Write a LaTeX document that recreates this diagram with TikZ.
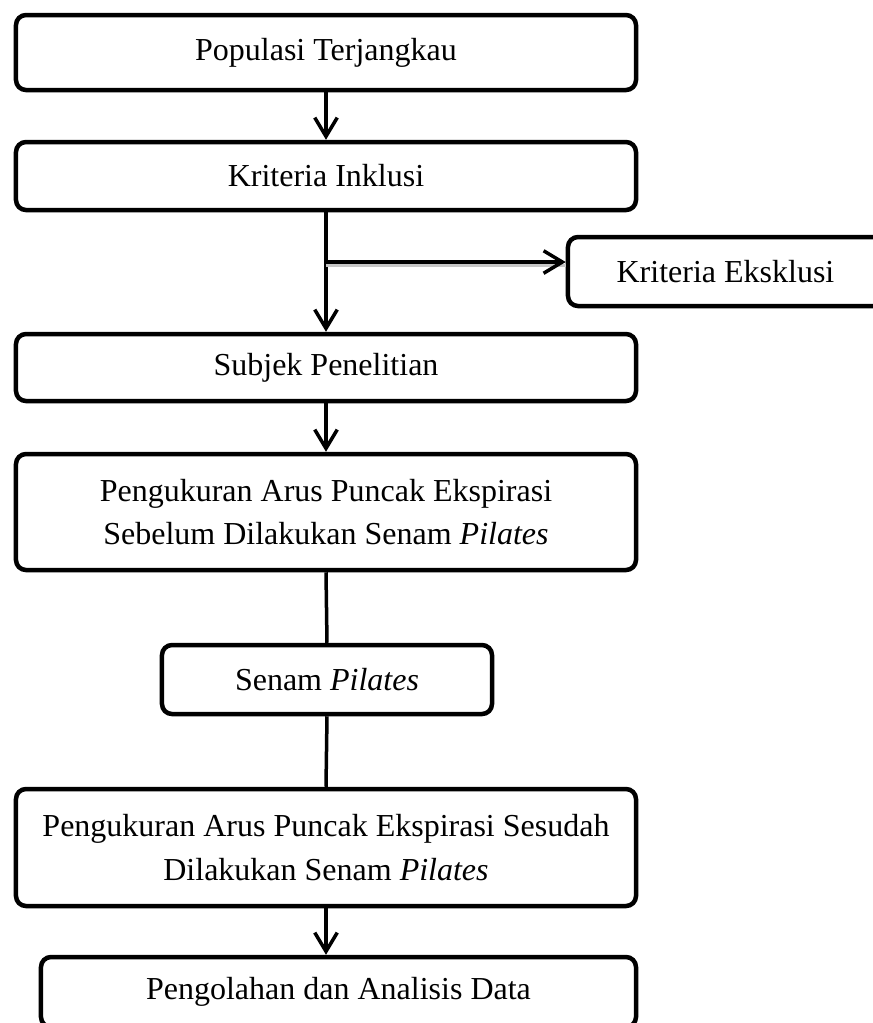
\documentclass[tikz,border=0pt]{standalone}
\usepackage{fontspec}
\setmainfont{Liberation Serif}
\usetikzlibrary{arrows.meta}
\begin{document}
\begin{tikzpicture}[x=0.4pt,y=-0.4pt,
  box/.style={draw, line width=1.8pt, rounded corners=4pt, align=center, inner sep=0pt,
    font=\fontsize{12.8}{17.3}\selectfont},
  conn/.style={line width=1.4pt},
  arr/.style={conn, -{Straight Barb[length=7.5pt,width=9pt,line width=1.4pt]}},
]
\useasboundingbox (0,0) rectangle (873,1023);
\node[box, minimum width=132pt, minimum height=27.6pt] (ex) at (733,271.5) {\hspace*{-6pt}Kriteria Eksklusi};
\node[box, minimum width=248pt, minimum height=30pt] (b1) at (326,52.5) {Populasi Terjangkau};
\node[box, minimum width=248pt, minimum height=27.2pt] (b2) at (326,176) {Kriteria Inklusi};
\node[box, minimum width=248pt, minimum height=26.8pt] (b3) at (326,367.5) {Subjek Penelitian};
\node[box, minimum width=248pt, minimum height=46.4pt] (b4) at (326,512) {Pengukuran Arus Puncak Ekspirasi\\Sebelum Dilakukan Senam \textit{Pilates}};
\node[box, minimum width=132pt, minimum height=27.6pt] (sen) at (327,679.5) {Senam \textit{Pilates}};
\node[box, minimum width=248pt, minimum height=46.8pt] (b5) at (326,847.5) {Pengukuran Arus Puncak Ekspirasi Sesudah\\Dilakukan Senam \textit{Pilates}};
\node[box, minimum width=238pt, minimum height=28pt] (b6) at (338.5,992) {Pengolahan dan Analisis Data};
\coordinate (br) at (326,262);
\draw[arr] (b1.south) -- (b2.north);
\draw[arr] (b2.south) -- (b3.north);
\draw[gray!45, line width=1.2pt] ([yshift=-1.3pt]br) -- ([yshift=-1.3pt]br -| ex.west);
\draw[arr] (br) -- (br -| ex.west);
\draw[arr] (b3.south) -- (b4.north);
\draw[conn] (b4.south) -- (sen.north);
\draw[conn] (sen.south) -- (b5.north);
\draw[arr] (b5.south) -- (b5.south |- b6.north);
\end{tikzpicture}
\end{document}
